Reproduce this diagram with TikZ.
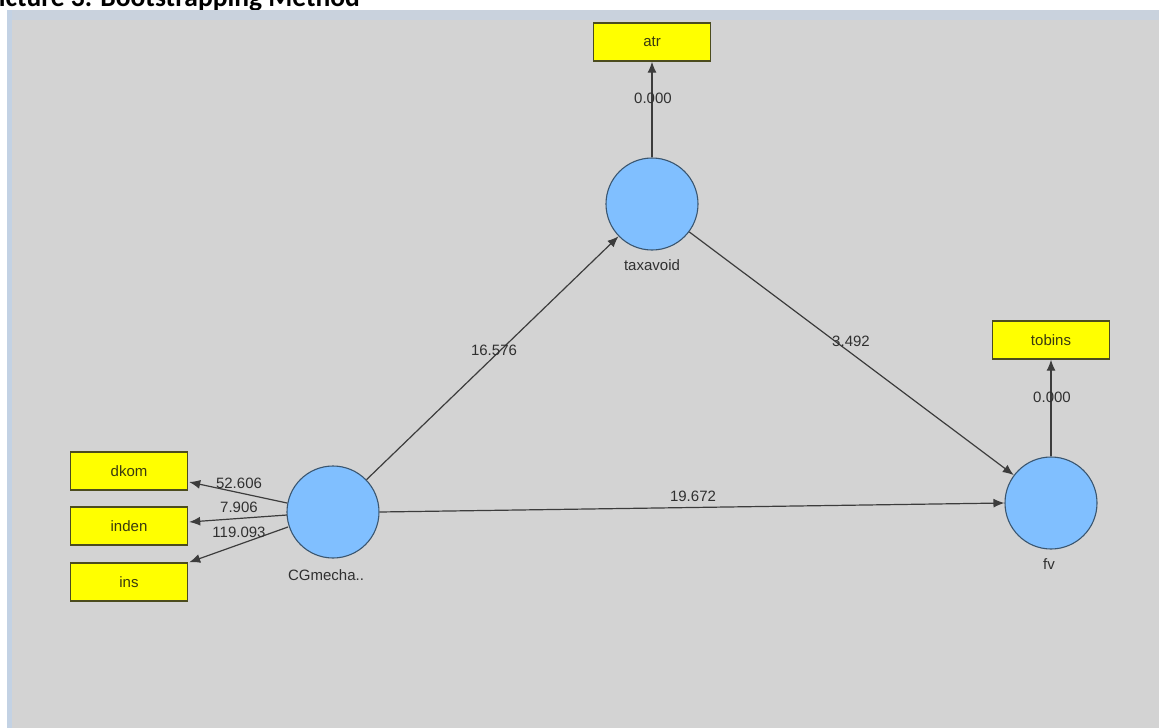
\documentclass[tikz,border=0pt]{standalone}
\usepackage{fontspec}
\setmainfont{Liberation Sans}
\newfontfamily\titlefont{Carlito}
\usetikzlibrary{arrows.meta,calc}
\definecolor{panelgray}{HTML}{D3D3D3}
\definecolor{stripblue}{HTML}{C3D2E4}
\definecolor{circfill}{HTML}{80BFFF}
\definecolor{circdraw}{HTML}{3A5670}
\definecolor{boxfill}{HTML}{FFFF00}
\definecolor{boxdraw}{HTML}{4C4C1E}
\definecolor{txtgray}{HTML}{303030}
\definecolor{boxtxt}{HTML}{3A3A10}
\definecolor{linegray}{HTML}{3C3C3C}
\tikzset{
  latent/.style={circle, minimum size=92pt, inner sep=0pt, fill=circfill, draw=circdraw, line width=1.1pt},
  indic/.style={rectangle, minimum width=117pt, minimum height=38pt, inner sep=0pt, fill=boxfill, draw=boxdraw, line width=1.4pt, font=\fontsize{15}{17}\selectfont, text=boxtxt},
  conn/.style={draw=linegray, line width=1.2pt, -{Latex[length=11pt,width=9pt]}},
  lbl/.style={font=\fontsize{15}{17}\selectfont, text=txtgray, inner sep=0pt},
  latlabel/.style={font=\fontsize{15}{17}\selectfont, text=txtgray, inner sep=0pt}
}
\begin{document}
\begin{tikzpicture}[x=1pt,y=-1pt]
\useasboundingbox (0,0) rectangle (1159,728);
\clip (0,0) rectangle (1159,728);
\fill[white] (0,0) rectangle (1159,728);
% title (cut off at top, as in the reference)
\node[anchor=base west, inner sep=0pt, font=\titlefont\bfseries\fontsize{27.5}{30}\selectfont] (title) at (-16,6.5) {Picture 3. Bootstrapping Method};
% panel
\fill[panelgray] (7,10) rectangle (1159,728);
\fill[stripblue!60!panelgray] (7,10) rectangle (1159,20);
\fill[stripblue] (7,10) rectangle (12,728);
% latent variables
\node[latent] (tax) at (652,204) {};
\node[latent] (fv) at (1051,503) {};
\node[latent] (cg) at (333,512) {};
\node[latlabel] (taxl) at (652,265) {taxavoid};
\node[latlabel] (fvl) at (1049,564) {fv};
\node[latlabel] (cgl) at (326,575) {CGmecha..};
% indicators
\node[indic] (atr) at (652,42) {atr};
\node[indic] (tobins) at (1051,340) {tobins};
\node[indic] (dkom) at (129,471) {dkom};
\node[indic] (inden) at (129,526) {inden};
\node[indic] (ins) at (129,582) {ins};
% connectors
\draw[conn] (tax) -- (atr);
\draw[conn] (fv) -- (tobins);
\draw[conn] (cg) -- (tax);
\draw[conn] (tax) -- (fv);
\draw[conn] (cg.east) -- (fv.west);
\draw[conn] ($(cg)+(-46,-9)$) -- ($(dkom.east)+(1,11)$);
\draw[conn] ($(cg)+(-46,3)$) -- ($(inden.east)+(1,-4)$);
\draw[conn] ($(cg)+(-45,15)$) -- ($(ins.north east)+(1,0)$);
% labels
\node[lbl] (l1) at (653,98) {0.000};
\node[lbl] (l2) at (1052,397) {0.000};
\node[lbl] (l3) at (494,350) {16.576};
\node[lbl] (l4) at (851,341) {3.492};
\node[lbl] (l5) at (693,496) {19.672};
\node[lbl] (l6) at (239,483) {52.606};
\node[lbl] (l7) at (239,507) {7.906};
\node[lbl] (l8) at (239,532) {119.093};
\end{tikzpicture}
\end{document}
